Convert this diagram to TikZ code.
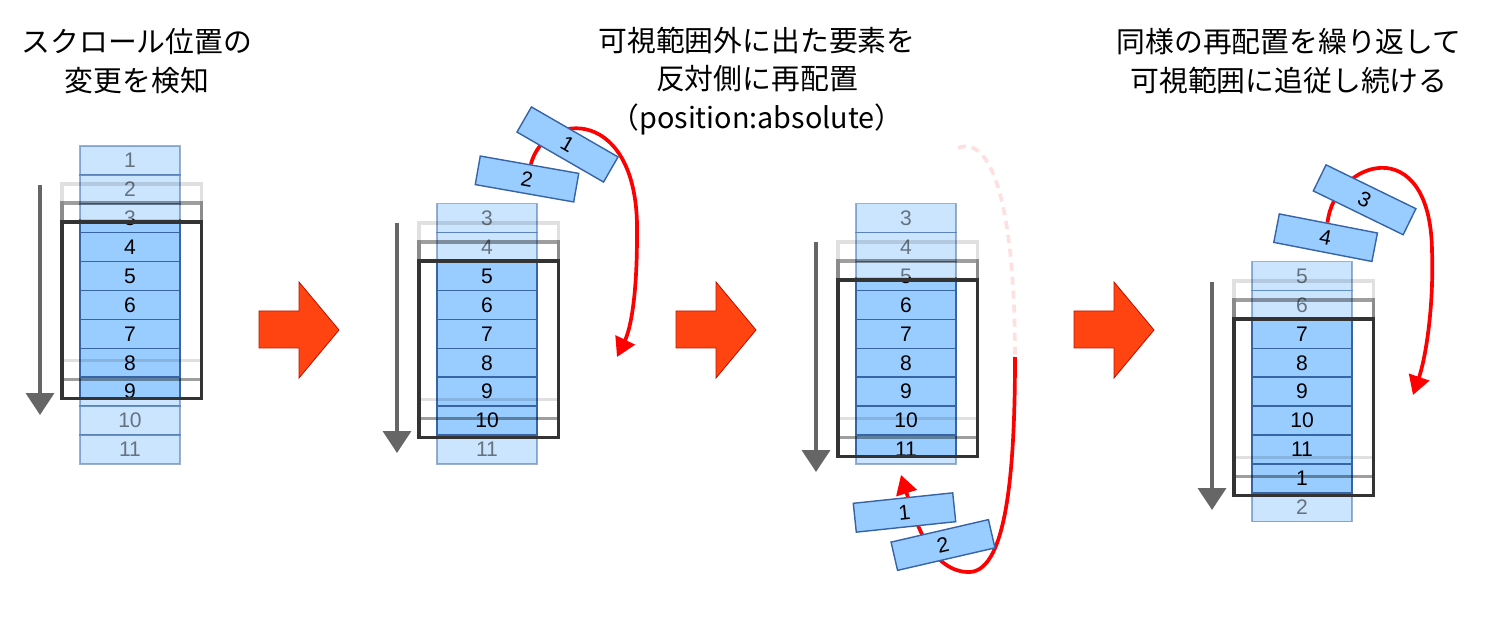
\documentclass[tikz,border=0pt]{standalone}
\usepackage{fontspec}
\setmainfont{Liberation Sans}
\newfontfamily\jpfont{Noto Sans CJK JP}
\usepackage{tikz}
\usetikzlibrary{positioning,arrows.meta,backgrounds}

\definecolor{itemfill}{RGB}{153,204,255}
\definecolor{itemline}{RGB}{55,100,165}
\definecolor{viewline}{RGB}{51,51,51}
\definecolor{scrollgray}{RGB}{102,102,102}
\definecolor{bigorange}{RGB}{255,68,17}
\definecolor{bigedge}{RGB}{190,20,0}

\begin{document}
\begin{tikzpicture}[x=0.02cm,y=-0.02cm]
	\tikzstyle{item}=[draw=itemline, fill=itemfill, line width=0.8pt, minimum width=2cm, minimum height=0.58cm, inner sep=0pt, font=\fontsize{12}{14}\selectfont]
	\tikzstyle{faded}=[opacity=0.5]
	\tikzstyle{view}=[draw, line width=2pt, minimum width=2.8cm, minimum height=3.54cm, inner sep=0pt, anchor=north west]
	\tikzstyle{scroll}=[draw=scrollgray, line width=2.1pt, -{Triangle[length=0.44cm,width=0.56cm]}]
	\tikzstyle{move}=[draw=red, line width=2.1pt, -{Triangle[length=0.38cm,width=0.42cm]}]
	\tikzstyle{ghost}=[draw=red, draw opacity=0.12, line width=2.1pt, dash pattern=on 0.16cm off 0.12cm]
	\tikzstyle{bigarrow}=[fill=bigorange, draw=bigedge, line width=0.5pt]
	\tikzstyle{head}=[font=\jpfont\fontsize{16.4}{22}\selectfont, align=center]
	\useasboundingbox (0,0) rectangle (1512,618);

	% headings
	\node[head] (t1) at (137,61) {スクロール位置の\\変更を検知};
	\node[head] (t2) at (757,81) {可視範囲外に出た要素を\\反対側に再配置\\（position:absolute）};
	\node[head] (t3) at (1289,61) {同様の再配置を繰り返して\\可視範囲に追従し続ける};

	% step 1
	\foreach \i in {1,...,11}
		\node[item, faded] (s1-\i) at (130,{146+28.9*(\i-0.5)}) {\i};
	\begin{scope}
		\clip (60,220) rectangle (200,397);
		\foreach \i in {3,...,9}
			\node[item] (s1-\i-in) at (130,{146+28.9*(\i-0.5)}) {\i};
	\end{scope}
	\node[view, draw opacity=0.12] (s1-va) at (60,182) {};
	\node[view, draw opacity=0.38] (s1-vb) at (60,201) {};
	\node[view, draw=viewline] (s1-v) at (60,220) {};
	\coordinate (s1-top) at (40,185);
	\coordinate (s1-end) at (40,415);
	\draw[scroll] (s1-top) -- (s1-end);

	% step 2
	\foreach \i in {3,...,11}
		\node[item, faded] (s2-\i) at (487,{146+28.9*(\i-0.5)}) {\i};
	\begin{scope}
		\clip (417,259) rectangle (557,436);
		\foreach \i in {5,...,10}
			\node[item] (s2-\i-in) at (487,{146+28.9*(\i-0.5)}) {\i};
	\end{scope}
	\node[view, draw opacity=0.12] (s2-va) at (417,221) {};
	\node[view, draw opacity=0.38] (s2-vb) at (417,240) {};
	\node[view, draw=viewline] (s2-v) at (417,259) {};
	\coordinate (s2-top) at (397,223);
	\coordinate (s2-end) at (397,453);
	\draw[scroll] (s2-top) -- (s2-end);
	\node[item, rotate=-30] (s2-1) at (567.5,144.5) {1};
	\node[item, rotate=-10] (s2-2) at (527,179) {2};
	\coordinate (s2-tip) at (617,357);
	\begin{scope}[on background layer]
		\draw[move] (s2-2) .. controls (545,110) and (640,105) .. (637,235) .. controls (637,300) and (630,330) .. (s2-tip);
	\end{scope}

	% step 3
	\foreach \i in {3,...,11}
		\node[item, faded] (s3-\i) at (906,{146+28.9*(\i-0.5)}) {\i};
	\begin{scope}
		\clip (836,278) rectangle (976,455);
		\foreach \i in {5,...,11}
			\node[item] (s3-\i-in) at (906,{146+28.9*(\i-0.5)}) {\i};
	\end{scope}
	\node[view, draw opacity=0.12] (s3-va) at (836,240) {};
	\node[view, draw opacity=0.38] (s3-vb) at (836,259) {};
	\node[view, draw=viewline] (s3-v) at (836,278) {};
	\coordinate (s3-top) at (816,242);
	\coordinate (s3-end) at (816,472);
	\draw[scroll] (s3-top) -- (s3-end);
	\node[item, rotate=6] (s3-1) at (904.5,512.5) {1};
	\node[item, rotate=13] (s3-2) at (943,545) {2};
	\coordinate (s3-old) at (958,148);
	\coordinate (s3-mid) at (1015,357);
	\coordinate (s3-low) at (967,572);
	\coordinate (s3-tip) at (901,475);
	\begin{scope}[on background layer]
		\draw[ghost] (s3-old) .. controls (990,135) and (1015,200) .. (s3-mid);
		\draw[move] (s3-mid) .. controls (1015,480) and (1005,575) .. (s3-low) .. controls (930,570) and (915,520) .. (s3-tip);
	\end{scope}

	% step 4
	\foreach \i/\p in {5/5,6/6,7/7,8/8,9/9,10/10,11/11,1/12,2/13}
		\node[item, faded] (s4-\i) at (1302,{146+28.9*(\p-0.5)}) {\i};
	\begin{scope}
		\clip (1232,317) rectangle (1372,493);
		\foreach \i/\p in {7/7,8/8,9/9,10/10,11/11,1/12}
			\node[item] (s4-\i-in) at (1302,{146+28.9*(\p-0.5)}) {\i};
	\end{scope}
	\node[view, draw opacity=0.12] (s4-va) at (1232,279) {};
	\node[view, draw opacity=0.38] (s4-vb) at (1232,298) {};
	\node[view, draw=viewline] (s4-v) at (1232,317) {};
	\coordinate (s4-top) at (1212,282);
	\coordinate (s4-end) at (1212,510);
	\draw[scroll] (s4-top) -- (s4-end);
	\node[item, rotate=-26] (s4-3) at (1364.6,199.8) {3};
	\node[item, rotate=-11] (s4-4) at (1325.6,237.7) {4};
	\coordinate (s4-tip) at (1413,395);
	\begin{scope}[on background layer]
		\draw[move] (s4-4) .. controls (1335,160) and (1430,130) .. (1432,250) .. controls (1434,310) and (1425,360) .. (s4-tip);
	\end{scope}

	% big arrows between the steps
	\foreach \x in {259,676,1074}
		\draw[bigarrow] (\x,311) -- (\x+40,311) -- (\x+40,282) -- (\x+80,330) -- (\x+40,378) -- (\x+40,348) -- (\x,348) -- cycle;
\end{tikzpicture}
\end{document}
